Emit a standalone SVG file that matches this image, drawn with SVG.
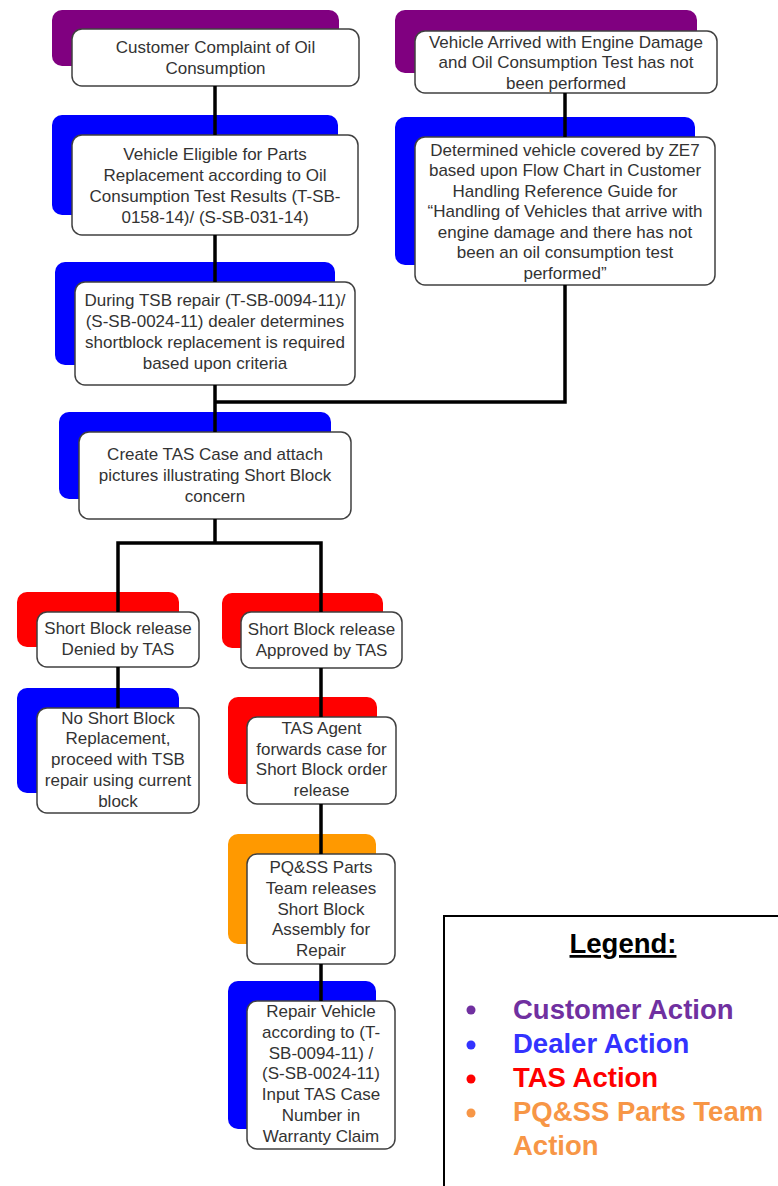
<svg xmlns="http://www.w3.org/2000/svg" width="778" height="1186" viewBox="0 0 778 1186">
<style>
.bg{stroke:none}
.cu{fill:#800080}
.de{fill:#0000FF}
.ta{fill:#FF0000}
.pq{fill:#FF9900}
.fr{fill:#FFFFFF;stroke:#404040;stroke-width:1.5}
.t{font-family:"Liberation Sans",Arial,sans-serif;font-size:17px;fill:#333333;text-anchor:middle}
.con{fill:none;stroke:#000000;stroke-width:3.5}
.lg{font-family:"Liberation Sans",Arial,sans-serif;font-weight:bold;font-size:27.5px}
</style>
<rect width="778" height="1186" fill="#FFFFFF"/>

<g id="n1">
<rect class="bg cu" x="52" y="10" width="287" height="56" rx="10"/>
<rect class="fr" x="72" y="29" width="287" height="57" rx="10"/>
<text class="t" x="215.5" y="53"><tspan x="215.5">Customer Complaint of Oil</tspan><tspan x="215.5" dy="21">Consumption</tspan></text>
</g>

<g id="n2">
<rect class="bg cu" x="395" y="10" width="302" height="63" rx="10"/>
<rect class="fr" x="415" y="31" width="302" height="62" rx="10"/>
<text class="t" x="566" y="47.5"><tspan x="566">Vehicle Arrived with Engine Damage</tspan><tspan x="566" dy="20.5">and Oil Consumption Test has not</tspan><tspan x="566" dy="20.5">been performed</tspan></text>
</g>

<g id="n3">
<rect class="bg de" x="395" y="117" width="300" height="148" rx="10"/>
<rect class="fr" x="415" y="137" width="300" height="148" rx="10"/>
<text class="t" x="565" y="155.5"><tspan x="565">Determined vehicle covered by ZE7</tspan><tspan x="565" dy="20.5">based upon Flow Chart in Customer</tspan><tspan x="565" dy="20.5">Handling Reference Guide for</tspan><tspan x="565" dy="20.5">“Handling of Vehicles that arrive with</tspan><tspan x="565" dy="20.5">engine damage and there has not</tspan><tspan x="565" dy="20.5">been an oil consumption test</tspan><tspan x="565" dy="20.5">performed”</tspan></text>
</g>

<g id="n4">
<rect class="bg de" x="52" y="115" width="286" height="100" rx="10"/>
<rect class="fr" x="72" y="135" width="286" height="100" rx="10"/>
<text class="t" x="215" y="159.5"><tspan x="215">Vehicle Eligible for Parts</tspan><tspan x="215" dy="21">Replacement according to Oil</tspan><tspan x="215" dy="21">Consumption Test Results (T-SB-</tspan><tspan x="215" dy="21">0158-14)/ (S-SB-031-14)</tspan></text>
</g>

<g id="n5">
<rect class="bg de" x="55" y="262" width="280" height="103" rx="10"/>
<rect class="fr" x="75" y="282" width="280" height="103" rx="10"/>
<text class="t" x="215" y="306"><tspan x="215">During TSB repair (T-SB-0094-11)/</tspan><tspan x="215" dy="21">(S-SB-0024-11) dealer determines</tspan><tspan x="215" dy="21">shortblock replacement is required</tspan><tspan x="215" dy="21">based upon criteria</tspan></text>
</g>

<g id="n6">
<rect class="bg de" x="59" y="412" width="272" height="87" rx="10"/>
<rect class="fr" x="79" y="432" width="272" height="87" rx="10"/>
<text class="t" x="215" y="460"><tspan x="215">Create TAS Case and attach</tspan><tspan x="215" dy="21">pictures illustrating Short Block</tspan><tspan x="215" dy="21">concern</tspan></text>
</g>

<g id="n7">
<rect class="bg ta" x="17" y="592" width="162" height="55" rx="10"/>
<rect class="fr" x="37" y="612" width="162" height="55" rx="10"/>
<text class="t" x="118" y="634"><tspan x="118">Short Block release</tspan><tspan x="118" dy="21">Denied by TAS</tspan></text>
</g>

<g id="n8">
<rect class="bg ta" x="222" y="593" width="161" height="55" rx="10"/>
<rect class="fr" x="241" y="612" width="161" height="56" rx="10"/>
<text class="t" x="321.5" y="634.5"><tspan x="321.5">Short Block release</tspan><tspan x="321.5" dy="21">Approved by TAS</tspan></text>
</g>

<g id="n9">
<rect class="bg de" x="17" y="688" width="162" height="105" rx="10"/>
<rect class="fr" x="37" y="708" width="162" height="105" rx="10"/>
<text class="t" x="118" y="723.5"><tspan x="118">No Short Block</tspan><tspan x="118" dy="20.8">Replacement,</tspan><tspan x="118" dy="20.8">proceed with TSB</tspan><tspan x="118" dy="20.8">repair using current</tspan><tspan x="118" dy="20.8">block</tspan></text>
</g>

<g id="n10">
<rect class="bg ta" x="228" y="697" width="149" height="87" rx="10"/>
<rect class="fr" x="247" y="717" width="149" height="87" rx="10"/>
<text class="t" x="321.5" y="734"><tspan x="321.5">TAS Agent</tspan><tspan x="321.5" dy="20.7">forwards case for</tspan><tspan x="321.5" dy="20.7">Short Block order</tspan><tspan x="321.5" dy="20.7">release</tspan></text>
</g>

<g id="n11">
<rect class="bg pq" x="228" y="834" width="148" height="110" rx="10"/>
<rect class="fr" x="247" y="854" width="148" height="110" rx="10"/>
<text class="t" x="321" y="873"><tspan x="321">PQ&amp;SS Parts</tspan><tspan x="321" dy="20.8">Team releases</tspan><tspan x="321" dy="20.8">Short Block</tspan><tspan x="321" dy="20.8">Assembly for</tspan><tspan x="321" dy="20.8">Repair</tspan></text>
</g>

<g id="n12">
<rect class="bg de" x="228" y="981" width="148" height="148" rx="10"/>
<rect class="fr" x="247" y="1001" width="148" height="148" rx="10"/>
<text class="t" x="321" y="1017"><tspan x="321">Repair Vehicle</tspan><tspan x="321" dy="20.8">according to (T-</tspan><tspan x="321" dy="20.8">SB-0094-11) /</tspan><tspan x="321" dy="20.8">(S-SB-0024-11)</tspan><tspan x="321" dy="20.8">Input TAS Case</tspan><tspan x="321" dy="20.8">Number in</tspan><tspan x="321" dy="20.8">Warranty Claim</tspan></text>
</g>

<g id="connectors">
<line class="con" x1="215" y1="86" x2="215" y2="135"/>
<line class="con" x1="215" y1="235" x2="215" y2="282"/>
<line class="con" x1="215" y1="385" x2="215" y2="432"/>
<line class="con" x1="565" y1="93" x2="565" y2="137"/>
<polyline class="con" points="565,285 565,402 215,402"/>
<line class="con" x1="215" y1="519" x2="215" y2="543"/>
<polyline class="con" points="118,612 118,543 321,543 321,612"/>
<line class="con" x1="118" y1="667" x2="118" y2="708"/>
<line class="con" x1="321" y1="668" x2="321" y2="717"/>
<line class="con" x1="321" y1="804" x2="321" y2="854"/>
<line class="con" x1="321" y1="964" x2="321" y2="1001"/>
</g>

<g id="legend">
<rect x="444" y="916" width="400" height="300" fill="#FFFFFF" stroke="#000000" stroke-width="2"/>
<text class="lg" x="623" y="953" text-anchor="middle" fill="#000000" text-decoration="underline" font-size="28">Legend:</text>
<circle cx="471" cy="1010" r="4.5" fill="#7030A0"/>
<circle cx="471" cy="1045" r="4.5" fill="#3333FF"/>
<circle cx="471" cy="1079" r="4.5" fill="#FF0000"/>
<circle cx="471" cy="1113" r="4.5" fill="#F79646"/>
<text class="lg" x="513" y="1019" fill="#7030A0">Customer Action</text>
<text class="lg" x="513" y="1053" fill="#3333FF">Dealer Action</text>
<text class="lg" x="513" y="1087" fill="#FF0000">TAS Action</text>
<text class="lg" fill="#F79646"><tspan x="513" y="1121">PQ&amp;SS Parts Team</tspan><tspan x="513" y="1155">Action</tspan></text>
</g>
</svg>
